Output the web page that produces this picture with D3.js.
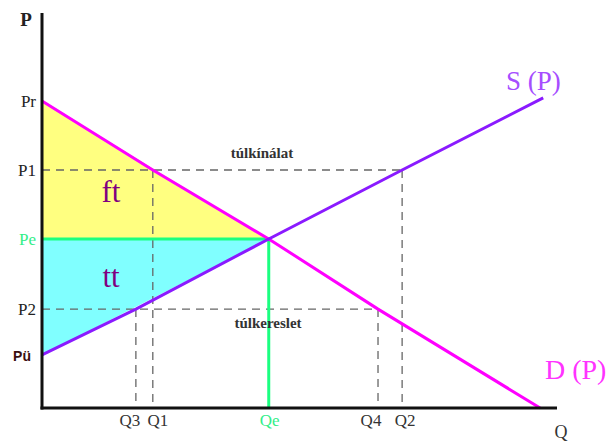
<!DOCTYPE html>
<html>
<head>
<meta charset="utf-8">
<script src="https://cdn.jsdelivr.net/npm/d3@7"></script>
<style>
  body { margin: 0; background: #fff; }
  text { font-family: "Liberation Serif", "Times New Roman", serif; }
</style>
</head>
<body>
<div class="chart"></div>
<script>
// price levels (0..10 units on P axis)
const priceNames = ["Pr", "P1", "Pe", "P2", "Pü"];
const priceValues = [7.79, 6.04, 4.29, 2.51, 1.35];

// quantity levels (0..10 units on Q axis)
const qtyNames = ["Q3", "Q1", "Qe", "Q4", "Q2"];
const qtyValues = [1.83, 2.16, 4.42, 6.55, 7.02];

// demand / supply curves
const demandQ = [0, 2.16, 4.42, 6.55, 9.71];
const demandP = [7.79, 6.04, 4.29, 2.51, 0];
const supplyQ = [0, 1.83, 4.42, 7.02, 9.77];
const supplyP = [1.35, 2.51, 4.29, 6.04, 7.87];

const width = 616;
const height = 441;

let svg = d3.select(".chart").append("svg")
    .attr("width", width)
    .attr("height", height);

let xScale = d3.scaleLinear().domain([0, 10]).range([42, 555]);
let yScale = d3.scaleLinear().domain([0, 10]).range([408, 14]);

const P = name => priceValues[priceNames.indexOf(name)];
const Q = name => qtyValues[qtyNames.indexOf(name)];

// filled triangles (producer / consumer surplus)
const tri = pts => pts.map(d => [xScale(d[0]), yScale(d[1])].join(",")).join(" ");
svg.append("polygon")
    .attr("points", tri([[0, P("Pr")], [Q("Qe"), P("Pe")], [0, P("Pe")]]))
    .attr("fill", "#ffff80");
svg.append("polygon")
    .attr("points", tri([[0, P("Pe")], [Q("Qe"), P("Pe")], [0, P("Pü")]]))
    .attr("fill", "#80ffff");

// dashed guides
const dash = (q1, p1, q2, p2) => {
    svg.append("line")
        .attr("x1", xScale(q1)).attr("y1", yScale(p1))
        .attr("x2", xScale(q2)).attr("y2", yScale(p2))
        .attr("stroke", "#666")
        .attr("stroke-width", 1.3)
        .attr("stroke-dasharray", "8,6");
};
dash(0, P("P1"), Q("Q2"), P("P1"));
dash(Q("Q1"), P("P1"), Q("Q1"), 0);
dash(Q("Q2"), P("P1"), Q("Q2"), 0);
dash(0, P("P2"), Q("Q4"), P("P2"));
dash(Q("Q3"), P("P2"), Q("Q3"), 0);
dash(Q("Q4"), P("P2"), Q("Q4"), 0);

// equilibrium lines (green)
svg.append("line")
    .attr("x1", xScale(0)).attr("y1", yScale(P("Pe")))
    .attr("x2", xScale(Q("Qe"))).attr("y2", yScale(P("Pe")))
    .attr("stroke", "#1aff80").attr("stroke-width", 3);
svg.append("line")
    .attr("x1", xScale(Q("Qe"))).attr("y1", yScale(P("Pe")))
    .attr("x2", xScale(Q("Qe"))).attr("y2", yScale(0))
    .attr("stroke", "#1aff80").attr("stroke-width", 3);

// curves
let line = d3.line().x(d => xScale(d[0])).y(d => yScale(d[1]));
svg.append("path")
    .attr("d", line(demandQ.map((q, i) => [q, demandP[i]])))
    .attr("fill", "none").attr("stroke", "#ff00ff").attr("stroke-width", 3);
svg.append("path")
    .attr("d", line(supplyQ.map((q, i) => [q, supplyP[i]])))
    .attr("fill", "none").attr("stroke", "#8a1aff").attr("stroke-width", 3);

// axes
svg.append("line")
    .attr("x1", 42).attr("y1", 13).attr("x2", 42).attr("y2", 409.5)
    .attr("stroke", "#111").attr("stroke-width", 3);
svg.append("line")
    .attr("x1", 40.5).attr("y1", 408).attr("x2", 557).attr("y2", 408)
    .attr("stroke", "#111").attr("stroke-width", 3);
svg.append("text").attr("x", 26).attr("y", 26).attr("text-anchor", "middle")
    .style("font-size", "19px").style("font-weight", "bold").attr("fill", "#222").text("P");
svg.append("text").attr("x", 561).attr("y", 438).attr("text-anchor", "middle")
    .style("font-size", "18px").attr("fill", "#333").text("Q");

// price labels
priceNames.forEach((name, i) => {
    let t = svg.append("text")
        .attr("x", 36)
        .attr("y", yScale(priceValues[i]) + 6)
        .attr("text-anchor", "end")
        .style("font-size", "17px")
        .attr("fill", name === "Pe" ? "#33ee88" : "#222")
        .text(name);
    if (name === "Pü") {
        t.style("font-family", "Liberation Sans, Arial, sans-serif")
            .style("font-size", "14px")
            .style("font-weight", "bold")
            .attr("x", 31)
            .attr("fill", "#3a1010");
    }
});

// quantity labels (Q3/Q1 pushed apart like in the original)
const qShift = { Q3: -6, Q1: 5, Qe: 1, Q4: -7, Q2: 3 };
qtyNames.forEach((name, i) => {
    svg.append("text")
        .attr("x", xScale(qtyValues[i]) + qShift[name])
        .attr("y", 426)
        .attr("text-anchor", "middle")
        .style("font-size", "17px")
        .attr("fill", name === "Qe" ? "#33ee88" : "#333")
        .text(name);
});

// area names
svg.append("text").attr("x", 111).attr("y", 202).attr("text-anchor", "middle")
    .style("font-size", "31px").attr("fill", "#800080").text("ft");
svg.append("text").attr("x", 111).attr("y", 287).attr("text-anchor", "middle")
    .style("font-size", "31px").attr("fill", "#800080").text("tt");

// surplus / shortage notes
svg.append("text").attr("x", 262).attr("y", 158).attr("text-anchor", "middle")
    .style("font-size", "15px").style("font-weight", "bold").attr("fill", "#333").text("túlkínálat");
svg.append("text").attr("x", 268).attr("y", 328).attr("text-anchor", "middle")
    .style("font-size", "15px").style("font-weight", "bold").attr("fill", "#333").text("túlkereslet");

// curve names
svg.append("text").attr("x", 506).attr("y", 90)
    .style("font-size", "27px").attr("fill", "#a64dff").text("S (P)");
svg.append("text").attr("x", 545).attr("y", 379)
    .style("font-size", "28px").attr("fill", "#ff33ff").text("D (P)");
</script>
</body>
</html>
